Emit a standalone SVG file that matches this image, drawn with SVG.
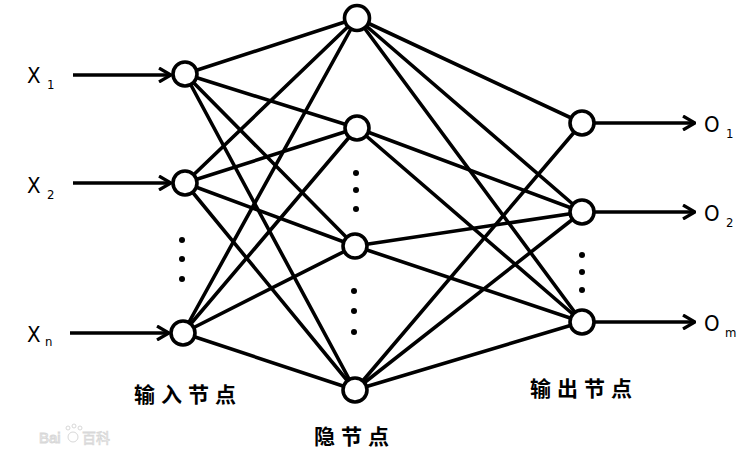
<svg xmlns="http://www.w3.org/2000/svg" width="748" height="471" viewBox="0 0 748 471">
<style>
.edge{stroke:#000;stroke-width:3.6;fill:none;stroke-linecap:round}
.node{fill:#fff;stroke:#000;stroke-width:3.6}
.arrow{stroke:#000;stroke-width:3.6;fill:none}
.dot{fill:#000}
.lbl{font-family:"DejaVu Sans Condensed","Liberation Sans",Arial,sans-serif;font-size:22px;fill:#000}
.sub{font-family:"DejaVu Sans Condensed","Liberation Sans",Arial,sans-serif;font-size:13px;fill:#000}
.cn{font-family:"Noto Sans CJK SC","Noto Sans",sans-serif;font-size:21px;font-weight:bold;fill:#000;letter-spacing:6px}
.wm{font-family:"Liberation Sans",Arial,sans-serif;font-size:15px;fill:#fff;stroke:#d8d8d8;stroke-width:1}
.wmcn{font-family:"Noto Sans CJK SC",sans-serif;font-size:14px;fill:#fff;stroke:#d8d8d8;stroke-width:0.8}
</style>
<defs>
<marker id="chev" viewBox="0 0 14 16" refX="13" refY="8" markerWidth="14" markerHeight="16" markerUnits="userSpaceOnUse" orient="auto">
<path d="M1,1 L13,8 L1,15" fill="none" stroke="#000" stroke-width="3.2"/>
</marker>
</defs>
<rect width="748" height="471" fill="#fff"/>
<g id="connectors">
<line class="edge" x1="185" y1="74" x2="357" y2="18"/>
<line class="edge" x1="185" y1="74" x2="357" y2="128"/>
<line class="edge" x1="185" y1="74" x2="355" y2="246"/>
<line class="edge" x1="185" y1="74" x2="355" y2="390"/>
<line class="edge" x1="185" y1="183" x2="357" y2="18"/>
<line class="edge" x1="185" y1="183" x2="357" y2="128"/>
<line class="edge" x1="185" y1="183" x2="355" y2="246"/>
<line class="edge" x1="185" y1="183" x2="355" y2="390"/>
<line class="edge" x1="183" y1="333" x2="357" y2="18"/>
<line class="edge" x1="183" y1="333" x2="357" y2="128"/>
<line class="edge" x1="183" y1="333" x2="355" y2="246"/>
<line class="edge" x1="183" y1="333" x2="355" y2="390"/>
<line class="edge" x1="357" y1="18" x2="582" y2="123"/>
<line class="edge" x1="357" y1="18" x2="582" y2="212"/>
<line class="edge" x1="357" y1="18" x2="582" y2="322"/>
<line class="edge" x1="357" y1="128" x2="582" y2="212"/>
<line class="edge" x1="357" y1="128" x2="582" y2="322"/>
<line class="edge" x1="355" y1="246" x2="582" y2="212"/>
<line class="edge" x1="355" y1="246" x2="582" y2="322"/>
<line class="edge" x1="355" y1="390" x2="582" y2="123"/>
<line class="edge" x1="355" y1="390" x2="582" y2="212"/>
<line class="edge" x1="355" y1="390" x2="582" y2="322"/>
<line class="arrow" x1="73" y1="75" x2="171" y2="75" marker-end="url(#chev)"/>
<line class="arrow" x1="73" y1="183" x2="171" y2="183" marker-end="url(#chev)"/>
<line class="arrow" x1="70" y1="333" x2="169" y2="333" marker-end="url(#chev)"/>
<line class="arrow" x1="595" y1="123" x2="695" y2="123" marker-end="url(#chev)"/>
<line class="arrow" x1="595" y1="212" x2="695" y2="212" marker-end="url(#chev)"/>
<line class="arrow" x1="595" y1="322" x2="695" y2="322" marker-end="url(#chev)"/>
</g>
<g id="input-1"><circle class="node" cx="185" cy="74" r="12"/></g>
<g id="input-2"><circle class="node" cx="185" cy="183" r="12"/></g>
<g id="input-n"><circle class="node" cx="183" cy="333" r="12"/></g>
<g id="hidden-1"><circle class="node" cx="357" cy="18" r="12.5"/></g>
<g id="hidden-2"><circle class="node" cx="357" cy="128" r="12"/></g>
<g id="hidden-3"><circle class="node" cx="355" cy="246" r="12"/></g>
<g id="hidden-4"><circle class="node" cx="355" cy="390" r="12"/></g>
<g id="output-1"><circle class="node" cx="582" cy="123" r="12"/></g>
<g id="output-2"><circle class="node" cx="582" cy="212" r="12"/></g>
<g id="output-m"><circle class="node" cx="582" cy="322" r="12"/></g>
<g id="ellipses">
<circle class="dot" cx="182" cy="240" r="3"/>
<circle class="dot" cx="182" cy="259" r="3"/>
<circle class="dot" cx="182" cy="279" r="3"/>
<circle class="dot" cx="356" cy="173" r="3"/>
<circle class="dot" cx="356" cy="190" r="3"/>
<circle class="dot" cx="356" cy="209" r="3"/>
<circle class="dot" cx="354" cy="291" r="3"/>
<circle class="dot" cx="354" cy="311" r="3"/>
<circle class="dot" cx="354" cy="332" r="3"/>
<circle class="dot" cx="582" cy="255" r="3"/>
<circle class="dot" cx="582" cy="272" r="3"/>
<circle class="dot" cx="582" cy="290" r="3"/>
</g>
<g id="labels">
<text class="lbl" x="27" y="83">X</text><text class="sub" x="47" y="89">1</text>
<text class="lbl" x="27" y="193">X</text><text class="sub" x="47" y="199">2</text>
<text class="lbl" x="27" y="342">X</text><text class="sub" x="45" y="346">n</text>
<text class="lbl" x="704" y="132">O</text><text class="sub" x="726" y="138">1</text>
<text class="lbl" x="704" y="221">O</text><text class="sub" x="726" y="227">2</text>
<text class="lbl" x="704" y="331">O</text><text class="sub" x="725" y="337">m</text>
<text class="cn" x="134" y="402">输入节点</text>
<text class="cn" x="314" y="444">隐节点</text>
<text class="cn" x="530" y="396">输出节点</text>
</g>
<g id="watermark">
<text class="wm" x="39" y="443">Bai</text>
<circle cx="73" cy="437" r="5" fill="#fff" stroke="#d8d8d8"/>
<circle cx="68" cy="428" r="2" fill="#fff" stroke="#d8d8d8"/>
<circle cx="74" cy="426" r="2" fill="#fff" stroke="#d8d8d8"/>
<circle cx="80" cy="428" r="2" fill="#fff" stroke="#d8d8d8"/>
<text class="wmcn" x="82" y="443">百科</text>
</g>
</svg>
